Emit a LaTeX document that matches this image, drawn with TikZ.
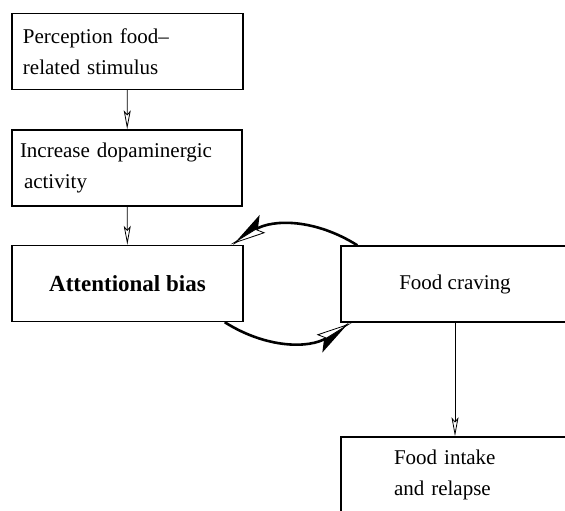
\documentclass[tikz,border=0pt]{standalone}
\usepackage{fontspec}
\setmainfont{Liberation Serif}
\usepackage{tikz}
\usetikzlibrary{arrows.meta}
\usetikzlibrary{positioning}

\begin{document}
\begin{tikzpicture}[x=1pt, y=1pt,
  % boxes of the flow chart
  box/.style={rectangle, draw=black, line width=1.4pt, minimum height=76pt, inner ysep=4pt,
    font=\fontsize{21}{31}\selectfont},
  % thin arrows between the boxes
  flow/.style={line width=0.8pt, -{Stealth[open, length=19pt, width=7pt, inset=4pt]}},
  % thick curved arrows of the loop
  loop_arrow/.style={line width=2.6pt,
    -{Stealth[harpoon, swap, length=34pt, width=20pt, inset=8pt, sep=-34pt]Stealth[harpoon, open, length=34pt, width=16pt, inset=6pt, line width=0.8pt, fill=white]}}
]
\useasboundingbox (0,0) rectangle (565,511);
\clip (0,0) rectangle (565,511);

% boxes placed at fixed coordinates
\node[box, minimum width=231pt, text width=209pt, inner xsep=11pt, align=left] (percept) at (127.5, 459.5)
  {Perception food--\\related stimulus};
\node[box, minimum width=230pt, text width=214pt, inner xsep=8pt, align=left] (dopa) at (127, 343)
  {Increase dopaminergic\\\hspace*{4pt}activity};
\node[box, minimum width=231pt, align=center, font=\fontsize{23}{31}\selectfont\bfseries] (bias) at (127.5, 227.5)
  {Attentional bias};
\node[box, minimum width=228pt, align=center] (craving) at (455, 227)
  {Food craving};
\node[box, minimum width=228pt, text width=122pt, inner xsep=53pt, align=left] (intake) at (455, 36)
  {Food intake\\and relapse};

% straight arrows
\draw[flow] (percept) -- (dopa);
\draw[flow] (dopa) -- (bias);
\draw[flow] (craving) -- (intake);

% loop between bias and craving
\draw[loop_arrow] ([xshift=17pt]craving.north west) to[bend right=32] ([xshift=-13pt]bias.north east);
\draw[loop_arrow] ([xshift=-19pt]bias.south east) to[bend right=32] ([xshift=11pt]craving.south west);

\end{tikzpicture}
\end{document}
